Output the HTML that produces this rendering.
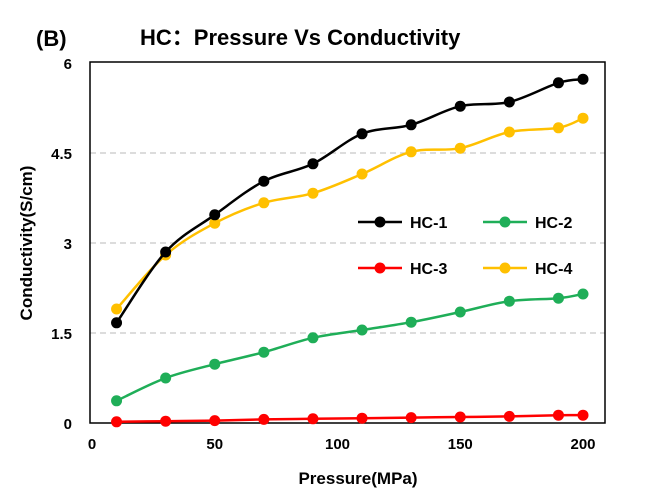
<!DOCTYPE html>
<html><head><meta charset="utf-8"><style>
body{margin:0;background:#fff;}
svg{display:block;font-family:"Liberation Sans","Noto Sans CJK SC",sans-serif;}
</style></head><body>
<svg id="chart" width="646" height="500">
<text x="36" y="46" font-size="22" font-weight="bold" fill="#000">(B)</text>
<text x="140" y="45" font-size="22" font-weight="bold" fill="#000">HC：Pressure Vs Conductivity</text>
<g id="grid"></g>
<rect x="90" y="62" width="515" height="361" fill="none" stroke="#000" stroke-width="1.5"/>
<g id="axes"></g>
<g id="series"></g>
<text transform="translate(32,243) rotate(-90)" text-anchor="middle" font-size="17" font-weight="bold">Conductivity(S/cm)</text>
<text x="358" y="484" text-anchor="middle" font-size="17" font-weight="bold">Pressure(MPa)</text>
<g id="legend"></g>
</svg>
<script>
const pressures=[10,30,50,70,90,110,130,150,170,190,200];
const hc1=[1.67,2.85,3.47,4.03,4.32,4.82,4.97,5.28,5.35,5.67,5.73];
const hc2=[0.37,0.75,0.98,1.18,1.42,1.55,1.68,1.85,2.03,2.08,2.15];
const hc3=[0.02,0.03,0.04,0.06,0.07,0.08,0.09,0.10,0.11,0.13,0.13];
const hc4=[1.90,2.80,3.33,3.67,3.83,4.15,4.52,4.58,4.85,4.92,5.08];
const xTicks=[0,50,100,150,200];
const yTicks=[0,1.5,3,4.5,6];
const yTickLabels=["0","1.5","3","4.5","6"];
const seriesNames=["HC-1","HC-2","HC-3","HC-4"];
const NS="http://www.w3.org/2000/svg";
const xs=v=>92+v*2.455;
const ys=v=>423-v*60;
function mk(t,a,p){const e=document.createElementNS(NS,t);for(const k in a)e.setAttribute(k,a[k]);p.appendChild(e);return e;}
const grid=document.getElementById('grid'),axes=document.getElementById('axes');
yTicks.forEach((t,i)=>{
 if(t>0&&t<6){const l=mk('line',{x1:90,x2:605,y1:ys(t),y2:ys(t),stroke:'#c8c8c8','stroke-width':1.2,'stroke-dasharray':'6,4'},grid);
 
 }
 const tx=mk('text',{x:72,y:ys(t)+6,'text-anchor':'end','font-size':15,'font-weight':'bold'},axes);
 tx.textContent=yTickLabels[i];
 
 
});
xTicks.forEach(t=>{
 const tx=mk('text',{x:xs(t),y:449,'text-anchor':'middle','font-size':15,'font-weight':'bold'},axes);
 tx.textContent=t;
 
 
});
function path(vals){
 const p=vals.map((v,i)=>[xs(pressures[i]),ys(v)]);
 let d='M'+p[0][0]+','+p[0][1];
 for(let i=0;i<p.length-1;i++){
  const p0=p[i-1]||p[i],p1=p[i],p2=p[i+1],p3=p[i+2]||p2;
  const c1=[p1[0]+(p2[0]-p0[0])/6,p1[1]+(p2[1]-p0[1])/6];
  const c2=[p2[0]-(p3[0]-p1[0])/6,p2[1]-(p3[1]-p1[1])/6];
  d+=` C${c1[0]},${c1[1]} ${c2[0]},${c2[1]} ${p2[0]},${p2[1]}`;
 }
 return d;
}
const colors=['#000000','#1fae58','#ff0000','#ffc000'];
const all=[hc1,hc2,hc3,hc4];
const sg=document.getElementById('series');
[1,2,3,0].forEach(k=>{
 const g=mk('g',{},sg);
 
 
 mk('path',{d:path(all[k]),fill:'none',stroke:colors[k],'stroke-width':2.5},g);
 all[k].forEach((v,i)=>{
  const c=mk('circle',{cx:xs(pressures[i]),cy:ys(v),r:5.5,fill:colors[k]},g);
  
  
 });
});
const lg=document.getElementById('legend');
const lpos=[[358,222],[483,222],[358,268],[483,268]];
seriesNames.forEach((n,k)=>{
 const g=mk('g',{},lg);
 
 
 const [x,y]=lpos[k];
 mk('line',{x1:x,x2:x+44,y1:y,y2:y,stroke:colors[k],'stroke-width':2.5},g);
 mk('circle',{cx:x+22,cy:y,r:5.5,fill:colors[k]},g);
 const t=mk('text',{x:x+52,y:y+6,'font-size':16,'font-weight':'bold'},g);
 t.textContent=n;
});
</script>
</body></html>
